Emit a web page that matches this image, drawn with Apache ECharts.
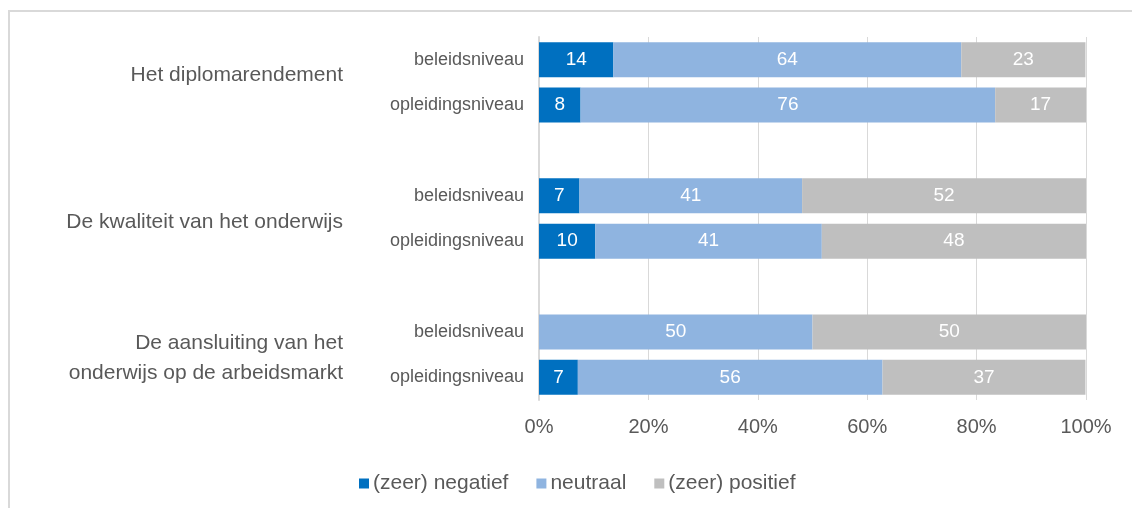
<!DOCTYPE html>
<html>
<head>
<meta charset="utf-8">
<script src="https://cdn.jsdelivr.net/npm/echarts@6/dist/echarts.min.js"></script>
<style>html,body{margin:0;padding:0;background:#fff}#c{width:1132px;height:508px}</style>
</head>
<body>
<div id="c"></div>
<script>
// Data
const groups = ['Het diplomarendement', 'De kwaliteit van het onderwijs', 'De aansluiting van het\nonderwijs op de arbeidsmarkt'];
const levels = ['beleidsniveau', 'opleidingsniveau'];
const seriesNames = ['(zeer) negatief', 'neutraal', '(zeer) positief'];
// per group: [beleidsniveau, opleidingsniveau] (percentages)
const negatief = [[13.6, 7.6], [7.4, 10.3], [0, 7.1]];
const neutraal = [[63.6, 75.8], [40.7, 41.4], [50, 55.7]];
const positief = [[22.7, 16.6], [51.9, 48.3], [50, 37.1]];
const xTicks = [0, 20, 40, 60, 80, 100];

const colors = ['#0070C0', '#8FB4E0', '#BFBFBF'];
const FONT = '"Liberation Sans", Arial, sans-serif';

// Build category rows with a blank spacer row between groups
const cats = [];
function rows(arr) {
  const out = [];
  arr.forEach((g, gi) => {
    if (gi > 0) out.push(null);
    g.forEach(v => out.push(v));
  });
  return out;
}
groups.forEach((g, gi) => {
  if (gi > 0) cats.push('');
  levels.forEach(l => cats.push(l));
});
// group axis: boundary positions (n rows + 1), group label at boundary between its two rows
const groupAxis = new Array(cats.length + 1).fill('');
groups.forEach((g, gi) => { groupAxis[gi * 3 + 1] = g; });

const allVals = [negatief, neutraal, positief];
const series = seriesNames.map((name, si) => ({
  name: name,
  type: 'bar',
  stack: 'total',
  barWidth: 35,
  yAxisIndex: 0,
  itemStyle: { color: colors[si] },
  label: {
    show: true,
    position: 'inside',
    color: '#fff',
    fontSize: 19,
    fontFamily: FONT,
    formatter: p => (p.value && p.value > 0) ? String(Math.round(p.value)) : ''
  },
  data: rows(allVals[si])
}));

const chart = echarts.init(document.getElementById('c'));
chart.setOption({
  animation: false,
  backgroundColor: '#fff',
  textStyle: { fontFamily: FONT },
  graphic: [{
    type: 'rect',
    shape: { x: 9, y: 11, width: 1300, height: 700 },
    style: { fill: 'none', stroke: '#D9D9D9', lineWidth: 2 },
    silent: true
  }],
  grid: { left: 539, right: 46, top: 37, bottom: 108, containLabel: false },
  legend: {
    data: seriesNames,
    left: 354,
    top: 468,
    icon: 'rect',
    itemWidth: 10,
    itemHeight: 10,
    itemGap: 28,
    textStyle: { fontSize: 21, color: '#595959', fontFamily: FONT, padding: [0, 0, 0, -1] }
  },
  xAxis: {
    type: 'value',
    min: xTicks[0],
    max: xTicks[xTicks.length - 1],
    interval: xTicks[1] - xTicks[0],
    axisLine: { show: false },
    axisTick: { show: false },
    splitLine: { lineStyle: { color: '#D9D9D9', width: 1 } },
    axisLabel: { formatter: '{value}%', fontSize: 20, color: '#595959', margin: 17, fontFamily: FONT }
  },
  yAxis: [{
    type: 'category',
    inverse: true,
    data: cats,
    axisLine: { show: true, lineStyle: { color: '#D9D9D9', width: 2 } },
    axisTick: { show: false },
    axisLabel: { fontSize: 18, color: '#595959', margin: 15, fontFamily: FONT, interval: 0 }
  }, {
    type: 'category',
    inverse: true,
    position: 'left',
    offset: 196,
    boundaryGap: false,
    data: groupAxis,
    axisLine: { show: false },
    axisTick: { show: false },
    splitLine: { show: false },
    axisLabel: {
      fontSize: 21, color: '#595959', margin: 0, align: 'right', lineHeight: 30, fontFamily: FONT, interval: 0,
      formatter: function (v) {
        if (!v) return '';
        const tag = v === groups[0] ? 'up' : 'dn';
        return v.split('\n').map(s => '{' + tag + '|' + s + '}').join('\n');
      },
      rich: {
        up: { fontSize: 21, color: '#595959', fontFamily: FONT, lineHeight: 30, padding: [0, 0, 14, 0] },
        dn: { fontSize: 21, color: '#595959', fontFamily: FONT, lineHeight: 30, padding: [8, 0, 0, 0] }
      }
    }
  }],
  series: series
});
</script>
</body>
</html>
